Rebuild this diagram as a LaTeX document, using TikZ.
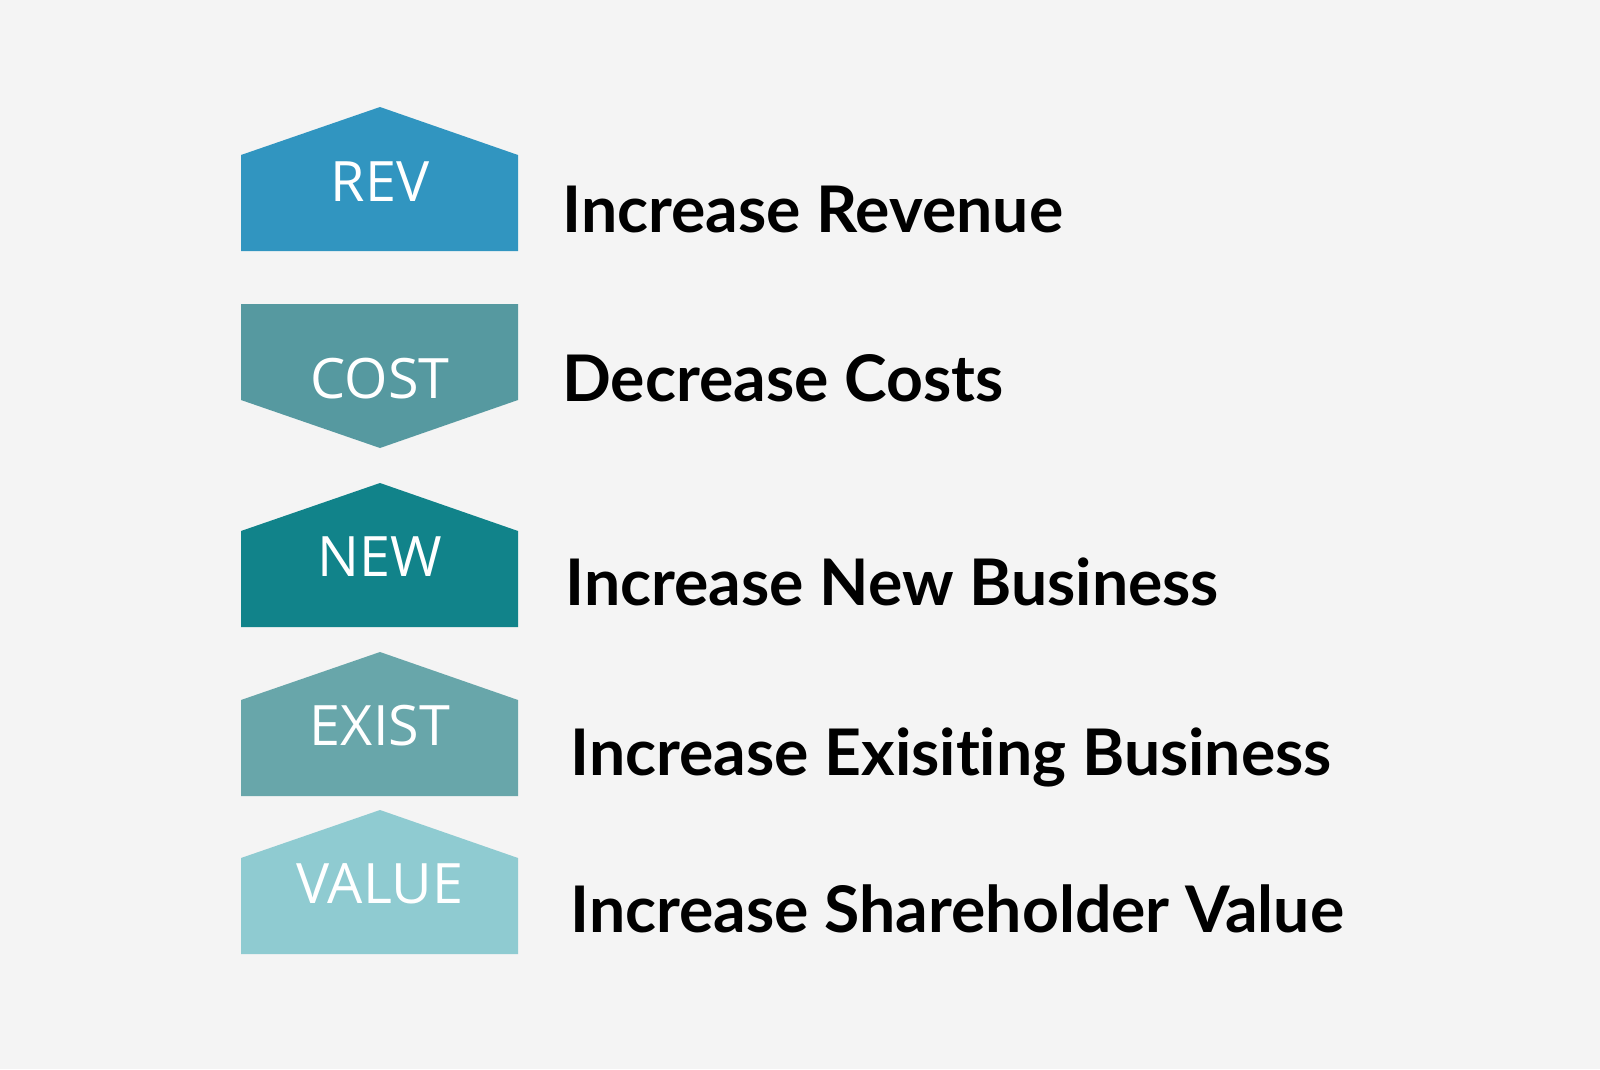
\documentclass[tikz,border=0pt]{standalone}
\usepackage{fontspec}
\setmainfont[Ligatures=NoCommon]{Lato}
\newfontfamily\tagfont{Open Sans}
\usepackage{xcolor}
\definecolor{back_gray}{RGB}{244,244,244}
\definecolor{rev_blue}{RGB}{49,149,192}
\definecolor{cost_teal}{RGB}{86,153,160}
\definecolor{new_teal}{RGB}{17,131,138}
\definecolor{exist_teal}{RGB}{104,166,170}
\definecolor{value_cyan}{RGB}{143,203,209}
\usepackage{tikz}

\begin{document}
\begin{tikzpicture}[x=0.02cm, y=-0.02cm,
  tag/.style={anchor=base, inner sep=0pt, text=white, font=\tagfont\fontsize{31.7pt}{34pt}\selectfont},
  goal/.style={anchor=base west, inner sep=0pt, text=black, font=\bfseries\fontsize{36.6pt}{40pt}\selectfont}]
\fill [back_gray] (0, 0) rectangle (1600, 1069);
\useasboundingbox (0, 0) rectangle (1600, 1069);

\fill [rev_blue] (241, 251) -- (241, 155) -- (380, 107) -- (518, 155) -- (518, 251) -- cycle;
\node [tag] (rev) at (380, 201) {REV};
\node [goal] (revgoal) at (562, 232) {Increase Revenue};

\fill [cost_teal] (241, 304) -- (518, 304) -- (518, 400) -- (380, 448) -- (241, 400) -- cycle;
\node [tag] (cost) at (380, 398) {COST};
\node [goal] (costgoal) at (562, 401) {Decrease Costs};

\fill [new_teal] (241, 627) -- (241, 531) -- (380, 483) -- (518, 531) -- (518, 627) -- cycle;
\node [tag] (new) at (380, 576) {NEW};
\node [goal] (newgoal) at (565, 605) {Increase New Business};

\fill [exist_teal] (241, 796) -- (241, 700) -- (380, 652) -- (518, 700) -- (518, 796) -- cycle;
\node [tag] (exist) at (380, 745) {EXIST};
\node [goal] (existgoal) at (570, 775) {Increase Exisiting Business};

\fill [value_cyan] (241, 954) -- (241, 858) -- (380, 810) -- (518, 858) -- (518, 954) -- cycle;
\node [tag] (value) at (380, 903) {VALUE};
\node [goal] (valuegoal) at (570, 932) {Increase Shareholder Value};

\end{tikzpicture}
\end{document}
